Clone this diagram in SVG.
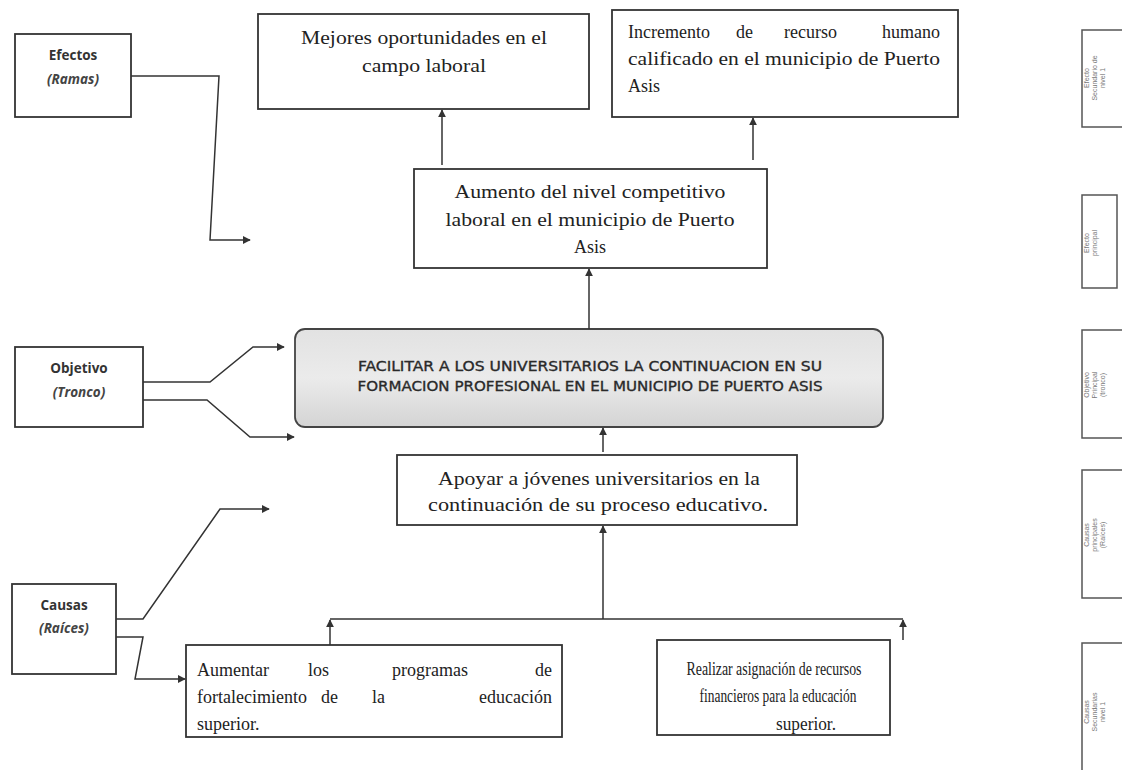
<svg xmlns="http://www.w3.org/2000/svg" width="1122" height="770" viewBox="0 0 1122 770">
<style>
.box{fill:#fff;stroke:#333;stroke-width:1.8}
.lbl{fill:#fff;stroke:#333;stroke-width:1.8}
.side{fill:#fff;stroke:#555;stroke-width:1.5}
.c{fill:none;stroke:#333;stroke-width:1.5}
.t{font-family:"Liberation Serif",serif;font-size:18px;fill:#222}
.b{font-family:"Open Sans","Liberation Sans",sans-serif;font-size:13.5px;font-weight:bold;fill:#333;text-anchor:middle}
.i{font-family:"Open Sans","Liberation Sans",sans-serif;font-size:13.5px;font-weight:bold;font-style:italic;fill:#444;text-anchor:middle}
.f{font-family:"DejaVu Sans","Liberation Sans",sans-serif;font-size:14px;fill:#2a2a2a;stroke:#2a2a2a;stroke-width:0.35}
.s{font-family:"Liberation Sans",sans-serif;font-size:7px;fill:#777;text-anchor:middle}
.m{text-anchor:middle}
</style>
<defs>
<marker id="ar" viewBox="0 0 10 10" refX="9" refY="5" markerWidth="8" markerHeight="8" markerUnits="userSpaceOnUse" orient="auto">
<path d="M0,0 L10,5 L0,10 z" fill="#333"/>
</marker>
<linearGradient id="g" x1="0" y1="0" x2="0" y2="1">
<stop offset="0" stop-color="#e2e2e2"/>
<stop offset="0.5" stop-color="#ebebeb"/>
<stop offset="1" stop-color="#d4d4d4"/>
</linearGradient>
</defs>
<rect width="1122" height="770" fill="#fff"/>

<g id="lbl-efectos">
<rect class="lbl" x="15" y="34" width="116" height="83"/>
<text class="b" x="73" y="60">Efectos</text>
<text class="i" x="73" y="84">(Ramas)</text>
</g>
<g id="lbl-objetivo">
<rect class="lbl" x="15" y="347" width="128" height="80"/>
<text class="b" x="79" y="373">Objetivo</text>
<text class="i" x="79" y="397">(Tronco)</text>
</g>
<g id="lbl-causas">
<rect class="lbl" x="12" y="584" width="104" height="90"/>
<text class="b" x="64" y="610">Causas</text>
<text class="i" x="64" y="633">(Raíces)</text>
</g>

<g id="n-mejores">
<rect class="box" x="258" y="14" width="331" height="95"/>
<text class="t m" x="424" y="44" textLength="246" lengthAdjust="spacingAndGlyphs">Mejores oportunidades en el</text>
<text class="t m" x="424" y="72" textLength="124" lengthAdjust="spacingAndGlyphs">campo laboral</text>
</g>
<g id="n-incremento">
<rect class="box" x="612" y="10" width="346" height="107"/>
<text class="t" x="628" y="38">Incremento</text>
<text class="t" x="736" y="38">de</text>
<text class="t" x="784" y="38">recurso</text>
<text class="t" x="940" y="38" text-anchor="end">humano</text>
<text class="t" x="628" y="65" textLength="312" lengthAdjust="spacingAndGlyphs">calificado en el municipio de Puerto</text>
<text class="t" x="628" y="92">Asis</text>
</g>
<g id="n-aumento">
<rect class="box" x="414" y="169" width="353" height="99"/>
<text class="t m" x="590" y="198" textLength="271" lengthAdjust="spacingAndGlyphs">Aumento del nivel competitivo</text>
<text class="t m" x="590" y="226" textLength="289" lengthAdjust="spacingAndGlyphs">laboral en el municipio de Puerto</text>
<text class="t m" x="590" y="253">Asis</text>
</g>
<g id="n-facilitar">
<rect x="295" y="329" width="588" height="98" rx="10" ry="10" fill="url(#g)" stroke="#444" stroke-width="1.8"/>
<text class="f m" x="590" y="371" textLength="464" lengthAdjust="spacingAndGlyphs">FACILITAR A LOS UNIVERSITARIOS LA CONTINUACION EN SU</text>
<text class="f m" x="590" y="391" textLength="465" lengthAdjust="spacingAndGlyphs">FORMACION PROFESIONAL EN EL MUNICIPIO DE PUERTO ASIS</text>
</g>
<g id="n-apoyar">
<rect class="box" x="397" y="455" width="400" height="70"/>
<text class="t m" x="599" y="485" textLength="322" lengthAdjust="spacingAndGlyphs">Apoyar a jóvenes universitarios en la</text>
<text class="t m" x="598" y="511" textLength="340" lengthAdjust="spacingAndGlyphs">continuación de su proceso educativo.</text>
</g>
<g id="n-aumentar">
<rect class="box" x="186" y="645" width="376" height="92"/>
<text class="t" x="197" y="676">Aumentar</text>
<text class="t" x="308" y="676">los</text>
<text class="t" x="392" y="676">programas</text>
<text class="t" x="552" y="676" text-anchor="end">de</text>
<text class="t" x="197" y="703">fortalecimiento</text>
<text class="t" x="321" y="703">de</text>
<text class="t" x="372" y="703">la</text>
<text class="t" x="552" y="703" text-anchor="end">educación</text>
<text class="t" x="197" y="730">superior.</text>
</g>
<g id="n-realizar">
<rect class="box" x="657" y="640" width="233" height="95"/>
<text class="t m" x="774" y="675" textLength="175" lengthAdjust="spacingAndGlyphs">Realizar asignación de recursos</text>
<text class="t m" x="778" y="702" textLength="157" lengthAdjust="spacingAndGlyphs">financieros para la educación</text>
<text class="t m" x="806" y="730" textLength="60" lengthAdjust="spacingAndGlyphs">superior.</text>
</g>

<g id="side-labels">
<rect class="side" x="1082" y="30" width="50" height="97"/>
<g transform="translate(1097,78) rotate(-90)">
<text class="s" x="0" y="-8">Efecto</text>
<text class="s" x="0" y="0">Secundario de</text>
<text class="s" x="0" y="8">nivel 1</text>
</g>
<rect class="side" x="1082" y="195" width="35" height="93"/>
<g transform="translate(1093,243) rotate(-90)">
<text class="s" x="0" y="-4">Efecto</text>
<text class="s" x="0" y="4">principal</text>
</g>
<rect class="side" x="1082" y="330" width="50" height="108"/>
<g transform="translate(1097,385) rotate(-90)">
<text class="s" x="0" y="-8">Objetivo</text>
<text class="s" x="0" y="0">Principal</text>
<text class="s" x="0" y="8">(tronco)</text>
</g>
<rect class="side" x="1082" y="470" width="50" height="128"/>
<g transform="translate(1097,535) rotate(-90)">
<text class="s" x="0" y="-8">Causas</text>
<text class="s" x="0" y="0">principales</text>
<text class="s" x="0" y="8">(Raíces)</text>
</g>
<rect class="side" x="1082" y="643" width="50" height="140"/>
<g transform="translate(1097,712) rotate(-90)">
<text class="s" x="0" y="-8">Causas</text>
<text class="s" x="0" y="0">Secundarias</text>
<text class="s" x="0" y="8">nivel 1</text>
</g>
</g>

<g id="connectors">
<polyline class="c" points="131,76 219,76 210,240 250,240" marker-end="url(#ar)"/>
<polyline class="c" points="143,382 210,382 253,347 284,347" marker-end="url(#ar)"/>
<polyline class="c" points="143,400 207,400 250,437 294,437" marker-end="url(#ar)"/>
<polyline class="c" points="116,619 143,619 220,509 269,509" marker-end="url(#ar)"/>
<polyline class="c" points="116,637 143,637 135,679 185,679" marker-end="url(#ar)"/>
<line class="c" x1="442" y1="165" x2="442" y2="110" marker-end="url(#ar)"/>
<line class="c" x1="753" y1="160" x2="753" y2="118" marker-end="url(#ar)"/>
<line class="c" x1="589" y1="329" x2="589" y2="269" marker-end="url(#ar)"/>
<line class="c" x1="603" y1="452" x2="603" y2="428" marker-end="url(#ar)"/>
<line class="c" x1="603" y1="619" x2="603" y2="526" marker-end="url(#ar)"/>
<line class="c" x1="330" y1="619" x2="903" y2="619"/>
<line class="c" x1="330" y1="645" x2="330" y2="620" marker-end="url(#ar)"/>
<line class="c" x1="903" y1="640" x2="903" y2="620" marker-end="url(#ar)"/>
</g>
</svg>
